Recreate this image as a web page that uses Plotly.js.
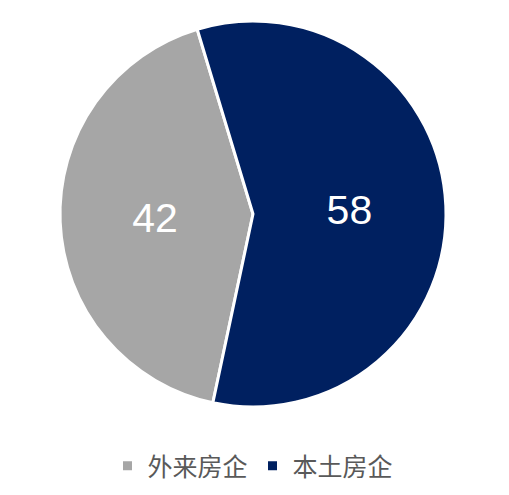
<!DOCTYPE html>
<html>
<head>
<meta charset="utf-8">
<script src="https://cdn.plot.ly/plotly-3.0.1.min.js"></script>
<style>body{margin:0;background:#fff}</style>
</head>
<body>
<div id="chart" style="width:509px;height:495px"></div>
<script>
// share of land buyers
var labels = ['外来房企', '本土房企'];
var values = [42, 58];
var colors = ['#a6a6a6', '#002060'];

var data = [
  {
    type: 'pie',
    labels: labels,
    values: values,
    sort: false,
    direction: 'clockwise',
    rotation: 192,
    textinfo: 'value',
    textposition: 'inside',
    insidetextorientation: 'horizontal',
    textfont: { family: 'Liberation Sans, Arial, sans-serif', size: 41, color: '#ffffff' },
    marker: { colors: colors, line: { color: '#ffffff', width: 3 } },
    hoverinfo: 'label+value'
  }
];

var layout = {
  width: 509,
  height: 495,
  margin: { t: 21, b: 88, l: 0, r: 3 },
  paper_bgcolor: '#ffffff',
  showlegend: true,
  legend: {
    orientation: 'h',
    x: 0.5, xanchor: 'center',
    y: -0.153, yanchor: 'middle',
    font: { family: 'Noto Sans CJK SC, sans-serif', size: 25, color: '#595959' },
    itemwidth: 30
  }
};

Plotly.newPlot('chart', data, layout, { displayModeBar: false });
</script>
</body>
</html>
